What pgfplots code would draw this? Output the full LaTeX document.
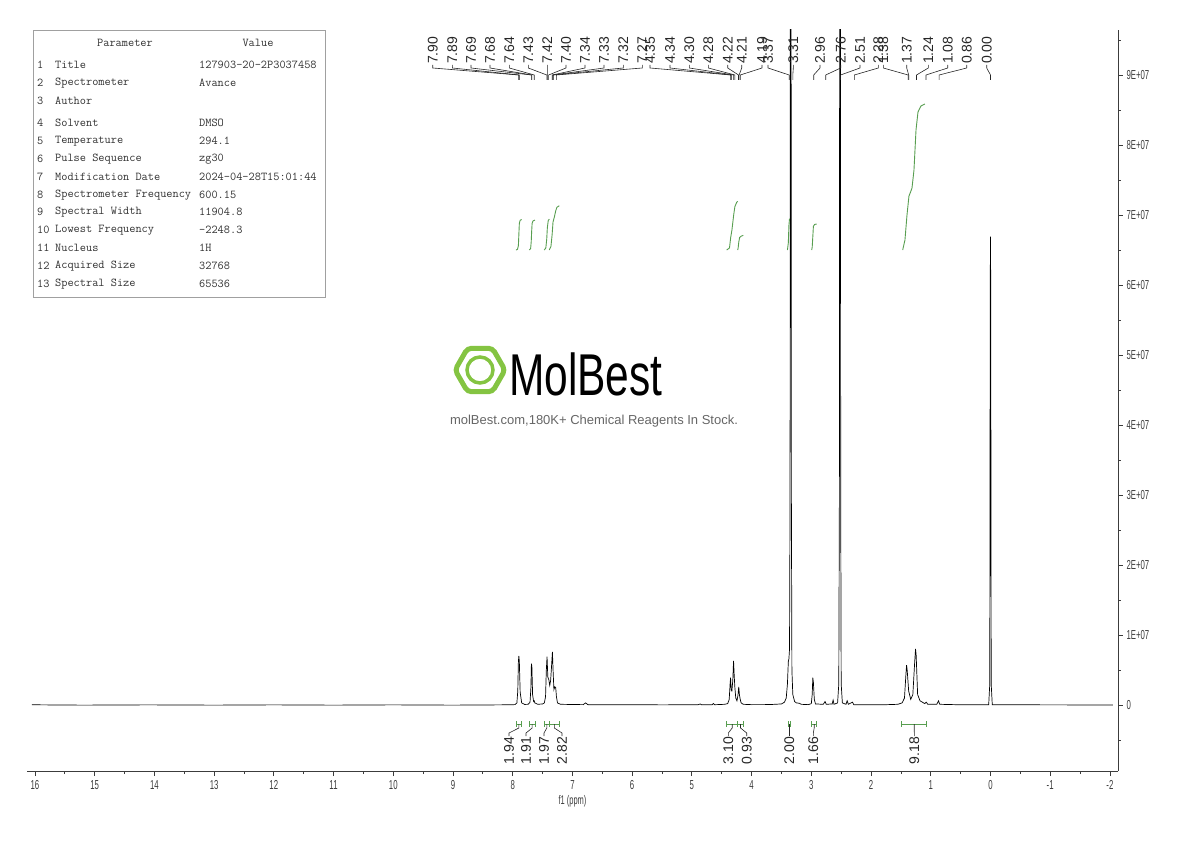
\documentclass[border=0pt]{standalone}
\usepackage{fontspec}
\setmainfont{Liberation Sans}
\newfontfamily\condfont[FakeStretch=0.6]{Liberation Sans}
\newfontfamily\logofont[FakeStretch=0.72]{Liberation Sans}
\usepackage{pgfplots}
\pgfplotsset{compat=1.18}
\definecolor{intgreen}{RGB}{88,158,80}
\definecolor{logogreen}{RGB}{132,196,66}
\definecolor{axgray}{RGB}{60,60,60}
\definecolor{tabgray}{RGB}{160,160,160}
\definecolor{tabtext}{RGB}{50,50,50}
\begin{document}
\begin{tikzpicture}
\path[use as bounding box] (0,0) rectangle (1190pt,841pt);
\begin{axis}[
  at={(27pt,70pt)}, anchor=south west,
  scale only axis, width=1091pt, height=741pt,
  x dir=reverse, xmin=-2.135, xmax=16.133,
  ymin=-0.9429, ymax=9.643,
  axis x line*=bottom, axis y line*=right,
  axis line style={axgray, line width=0.8pt, -},
  every tick/.style={axgray, line width=0.8pt},
  tick align=outside,
  major tick length=5pt, minor tick length=3pt,
  xtick={-2,-1,0,1,2,3,4,5,6,7,8,9,10,11,12,13,14,15,16},
  xticklabels={-2,-1,0,1,2,3,4,5,6,7,8,9,10,11,12,13,14,15,16},
  minor xtick={-1.5,-0.5,0.5,1.5,2.5,3.5,4.5,5.5,6.5,7.5,8.5,9.5,10.5,11.5,12.5,13.5,14.5,15.5},
  ytick={0,1,2,3,4,5,6,7,8,9},
  yticklabels={0,1E+07,2E+07,3E+07,4E+07,5E+07,6E+07,7E+07,8E+07,9E+07},
  minor ytick={-0.5,0.5,1.5,2.5,3.5,4.5,5.5,6.5,7.5,8.5,9.5},
  xticklabel style={font=\condfont\fontsize{13}{13}\selectfont, text=axgray, yshift=-1pt},
  yticklabel style={font=\condfont\fontsize{13}{13}\selectfont, text=axgray, xshift=0pt},
  xlabel={f1 (ppm)},
  xlabel style={font=\condfont\fontsize{12.5}{13}\selectfont, text=axgray, at={(axis description cs:0.5,0)}, anchor=center, yshift=-30pt},
  clip=true,
]
% spectrum
\addplot[black, line width=0.7pt] coordinates {
(16.05,0.003)(15.2,-0.002)(14.1,0.002)(13.0,-0.002)(12.0,0.002)(11.0,-0.002)(10.0,0.002)(9.0,-0.002)(8.2,0.002)(8.0,0.004)
(7.96,0.006)(7.93,0.03)(7.915,0.2)(7.905,0.62)(7.897,0.70)(7.889,0.62)(7.875,0.18)(7.85,0.03)(7.80,0.008)
(7.74,0.01)(7.71,0.04)(7.695,0.25)(7.687,0.59)(7.679,0.55)(7.667,0.15)(7.65,0.05)(7.64,0.06)(7.63,0.03)(7.58,0.01)(7.50,0.015)
(7.47,0.03)(7.45,0.12)(7.437,0.5)(7.425,0.69)(7.412,0.40)(7.395,0.36)(7.38,0.28)(7.365,0.35)(7.35,0.55)(7.335,0.76)(7.322,0.45)(7.31,0.22)(7.295,0.26)(7.28,0.25)(7.268,0.12)(7.25,0.03)(7.2,0.01)
(6.82,0.005)(6.78,0.03)(6.74,0.005)(5.5,0.002)(4.9,0.003)(4.86,0.015)(4.84,0.003)(4.66,0.004)(4.64,0.02)(4.62,0.004)(4.45,0.01)
(4.40,0.02)(4.375,0.08)(4.36,0.3)(4.352,0.39)(4.342,0.22)(4.33,0.2)(4.315,0.35)(4.302,0.63)(4.29,0.4)(4.28,0.25)(4.265,0.1)(4.245,0.06)(4.228,0.14)(4.215,0.26)(4.203,0.14)(4.19,0.08)(4.175,0.03)(4.14,0.01)
(4.0,0.005)(3.7,0.006)(3.5,0.015)(3.45,0.04)(3.42,0.1)(3.40,0.3)(3.385,0.62)(3.375,0.66)(3.365,0.8)(3.356,3)(3.349,14)(3.341,14)(3.334,3)(3.325,0.5)(3.31,0.15)(3.28,0.05)(3.25,0.03)(3.20,0.025)(3.17,0.01)(3.05,0.005)
(3.00,0.02)(2.985,0.15)(2.975,0.39)(2.965,0.32)(2.95,0.08)(2.93,0.015)
(2.80,0.01)(2.77,0.05)(2.75,0.01)(2.65,0.015)(2.635,0.07)(2.62,0.01)
(2.56,0.03)(2.54,0.3)(2.53,3)(2.523,14)(2.515,14)(2.508,3)(2.50,0.3)(2.48,0.03)
(2.42,0.01)(2.40,0.06)(2.38,0.01)(2.31,0.04)(2.29,0.005)(1.8,0.003)
(1.55,0.01)(1.48,0.03)(1.44,0.1)(1.415,0.45)(1.405,0.57)(1.395,0.5)(1.37,0.2)(1.335,0.08)(1.30,0.15)(1.27,0.6)(1.255,0.8)(1.245,0.72)(1.22,0.15)(1.18,0.06)(1.14,0.04)(1.10,0.02)(1.075,0.04)(1.05,0.01)(0.90,0.01)(0.87,0.06)(0.85,0.01)(0.5,0.003)
(0.03,0.003)(0.012,0.3)(0.004,6.0)(0.0,6.69)(-0.004,6.0)(-0.012,0.3)(-0.03,0.003)(-1.0,0.002)(-2.05,0.0)
};
% integral curves
\addplot[intgreen, line width=0.9pt] coordinates {(7.945,6.5)(7.92,6.51)(7.905,6.56)(7.897,6.72)(7.889,6.88)(7.875,6.925)(7.85,6.935)};
\addplot[intgreen, line width=0.9pt] coordinates {(7.722,6.5)(7.70,6.52)(7.69,6.62)(7.683,6.76)(7.675,6.88)(7.66,6.915)(7.627,6.928)};
\addplot[intgreen, line width=0.9pt] coordinates {(7.472,6.5)(7.445,6.53)(7.43,6.66)(7.42,6.82)(7.405,6.92)(7.388,6.942)};
\addplot[intgreen, line width=0.9pt] coordinates {(7.388,6.5)(7.36,6.55)(7.34,6.72)(7.325,6.90)(7.30,6.98)(7.28,7.06)(7.26,7.11)(7.22,7.132)};
\addplot[intgreen, line width=0.9pt] coordinates {(4.417,6.5)(4.37,6.53)(4.35,6.68)(4.33,6.78)(4.30,7.0)(4.28,7.12)(4.25,7.18)(4.233,7.195)};
\addplot[intgreen, line width=0.9pt] coordinates {(4.233,6.5)(4.225,6.53)(4.215,6.61)(4.20,6.68)(4.17,6.70)(4.139,6.709)};
\addplot[intgreen, line width=0.9pt] coordinates {(3.40,6.5)(3.385,6.6)(3.375,6.85)(3.365,6.949)};
\addplot[intgreen, line width=0.9pt] coordinates {(2.994,6.5)(2.985,6.54)(2.975,6.69)(2.965,6.84)(2.945,6.865)(2.91,6.872)};
\addplot[intgreen, line width=0.9pt] coordinates {(1.470,6.5)(1.432,6.643)(1.398,7.0)(1.365,7.271)(1.336,7.333)(1.314,7.386)(1.281,7.643)(1.247,8.214)(1.214,8.471)(1.164,8.557)(1.097,8.586)};
\end{axis}
% ---------- annotations in pixel coordinates ----------
\begin{scope}[x=1pt,y=-1pt,yshift=841pt]
% parameter table
\draw[tabgray, line width=0.8pt] (33,30) rectangle (325,297);
\begin{scope}[every node/.style={inner sep=0pt, text=tabtext, font=\ttfamily\fontsize{12}{12}\selectfont}]
\node at (125,43) {Parameter};
\node at (258,43) {Value};
\foreach \y/\n/\p/\v in {65/1/Title/127903-20-2P3037458, 83/2/Spectrometer/Avance, 101/3/Author/{}, 123/4/Solvent/DMSO, 141/5/Temperature/294.1, 159/6/Pulse Sequence/zg30, 177/7/Modification Date/2024-04-28T15:01:44, 195/8/Spectrometer Frequency/600.15, 212/9/Spectral Width/11904.8, 230/10/Lowest Frequency/-2248.3, 248/11/Nucleus/1H, 266/12/Acquired Size/32768, 284/13/Spectral Size/65536}{
  \node[anchor=west] at (37,\y) {\n};
  \node[anchor=west] at (55,\y) {\p};
  \node[anchor=west] at (199,\y) {\v};
}
\end{scope}
% watermark logo
\draw[logogreen, line width=5pt, rounded corners=4pt] (455,370) -- (467.5,348.3) -- (492.5,348.3) -- (505,370) -- (492.5,391.7) -- (467.5,391.7) -- cycle;
\draw[logogreen, line width=3.5pt] (480,370) circle (13);
\node[anchor=west, inner sep=0pt, font=\logofont\fontsize{59}{59}\selectfont] at (509,374) {MolBest};
\node[inner sep=0pt, text=black!60, font=\fontsize{13}{13}\selectfont] at (594,421) {molBest.com,180K+ Chemical Reagents In Stock.};
% peak labels
\foreach \lx/\px/\t in {432.7/518.7/7.90, 452.3/519.3/7.89, 471/531.3/7.69, 490/531.9/7.68, 509.3/534.2/7.64, 528.3/546.8/7.43, 547.3/547.4/7.42, 566/548.6/7.40, 585/552.2/7.34, 604/552.8/7.33, 623.3/553.4/7.32, 642.3/556.3/7.27, 650/730.7/4.35, 670/731.3/4.34, 689.3/733.7/4.30, 708.3/734.9/4.28, 727.7/738.5/4.22, 741.7/739.1/4.21, 762/740.3/4.19, 768/789.2/3.37, 793.3/792.8/3.31, 820/813.7/2.96, 840.7/825.7/2.76, 860/840.6/2.51, 878.3/854.3/2.28, 883.3/908.1/1.38, 906.7/908.7/1.37, 928.3/916.5/1.24, 947.7/926.0/1.08, 966.7/939.1/0.86, 986.7/990.5/0.00}{
  \draw[black!85, line width=0.6pt] (\lx,65) -- (\lx,68) -- (\px,75) -- (\px,80);
  \node[rotate=90, anchor=west, inner sep=0pt, text=black!85, font=\fontsize{14}{14}\selectfont] at (\lx,64) {\t};
}
% integral bars and labels
\foreach \a/\b/\lx/\t in {516/521.7/509/1.94, 529.3/535/526/1.91, 544.3/549.3/544/1.97, 549.3/559.3/562/2.82, 726.7/737.7/728.3/3.10, 737.7/743.3/746.7/0.93, 788.3/790.3/789.3/2.00, 811.7/816.7/813.3/1.66, 901.7/926.7/914.3/9.18}{
  \draw[intgreen, line width=0.8pt] (\a,721) -- (\a,727) (\a,724) -- (\b,724) (\b,721) -- (\b,727);
  \draw[black!85, line width=0.6pt] ({(\a+\b)/2},724) -- ({(\a+\b)/2},728) -- (\lx,733) -- (\lx,736);
  \node[rotate=90, anchor=east, inner sep=0pt, text=black!85, font=\fontsize{14}{14}\selectfont] at (\lx,737) {\t};
}
\end{scope}
\end{tikzpicture}
\end{document}
